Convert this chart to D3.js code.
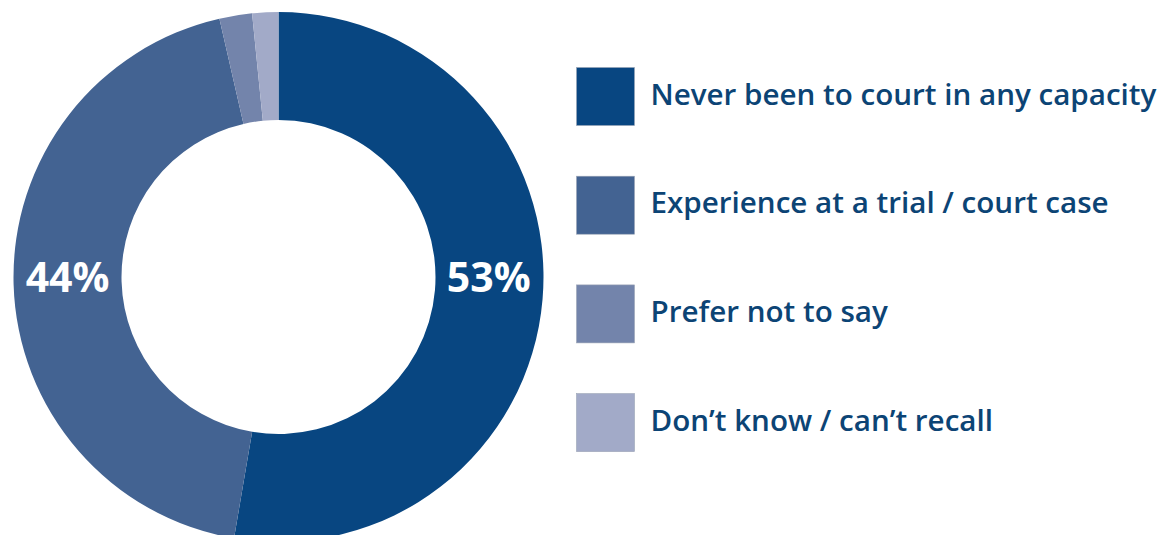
<!DOCTYPE html>
<html>
<head>
<meta charset="utf-8">
<script src="https://cdn.jsdelivr.net/npm/d3@7"></script>
<style>
  html, body { margin: 0; padding: 0; background: #ffffff; }
  svg { display: block; }
  text { font-family: "Open Sans", "Noto Sans", sans-serif; }
</style>
</head>
<body>
<svg id="chart" width="1162" height="535"></svg>
<script>
// Survey responses: experience of attending court
const categories = [
  "Never been to court in any capacity",
  "Experience at a trial / court case",
  "Prefer not to say",
  "Don\u2019t know / can\u2019t recall"
];
const values = [53, 44, 2, 1.6];
const colors = ["#084681", "#436392", "#7384ab", "#a2aac8"];
const shownLabels = [true, true, false, false];

const svg = d3.select("#chart");
const cx = 278.5, cy = 277;
const outerR = 265, innerR = 157;

const pie = d3.pie().sort(null).value(d => d.value);
const arc = d3.arc().innerRadius(innerR).outerRadius(outerR);
const midArc = d3.arc().innerRadius((innerR + outerR) / 2).outerRadius((innerR + outerR) / 2);

const data = categories.map((c, i) => ({ name: c, value: values[i], color: colors[i], label: shownLabels[i] }));
const arcs = pie(data);

const g = svg.append("g").attr("transform", `translate(${cx},${cy})`);

g.selectAll("path.slice")
  .data(arcs)
  .join("path")
  .attr("class", "slice")
  .attr("d", arc)
  .attr("fill", d => d.data.color);

// Percentage labels, centred horizontally in their ring segment
g.selectAll("text.pct")
  .data(arcs.filter(d => d.data.label))
  .join("text")
  .attr("class", "pct")
  .attr("x", d => midArc.centroid(d)[0])
  .attr("y", 15)
  .attr("text-anchor", "middle")
  .attr("fill", "#ffffff")
  .attr("font-size", 41)
  .attr("font-weight", 700)
  .text(d => d3.format(".0f")(d.data.value) + "%");

// Legend
const legend = svg.append("g").attr("transform", "translate(576.5,67.5)");
const rowStep = 108.7;
const box = 58;

const rows = legend.selectAll("g.row")
  .data(data)
  .join("g")
  .attr("class", "row")
  .attr("transform", (d, i) => `translate(0,${i * rowStep})`);

rows.append("rect")
  .attr("width", box)
  .attr("height", box)
  .attr("fill", d => d.color)
  .attr("stroke", "#9aa3b5")
  .attr("stroke-width", 0.6);

rows.append("text")
  .attr("x", 74)
  .attr("y", box / 2 + 8)
  .attr("fill", "#0c4475")
  .attr("font-size", 29.6)
  .attr("font-weight", 600)
  .text(d => d.name);
</script>
</body>
</html>
